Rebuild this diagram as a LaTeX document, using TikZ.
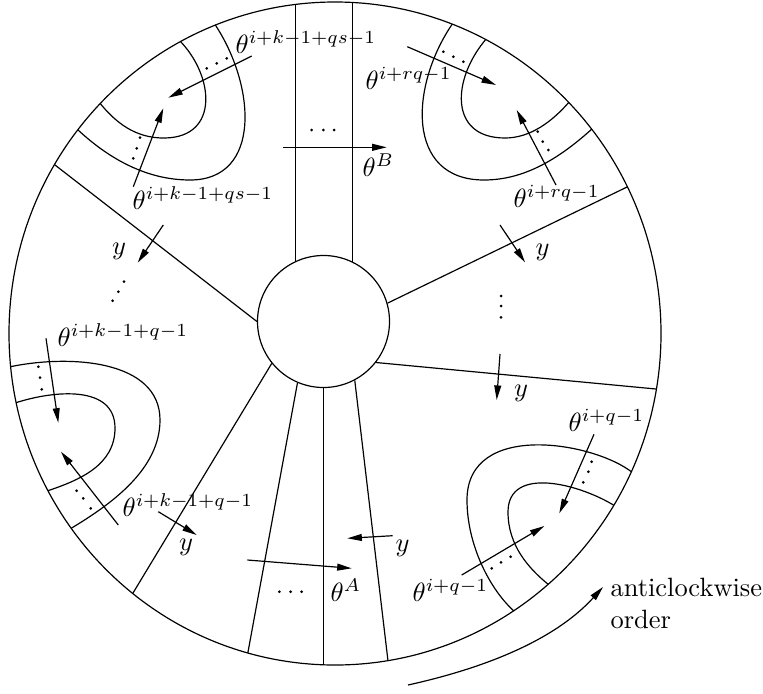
\documentclass[tikz,border=0pt]{standalone}
\usetikzlibrary{arrows.meta}
\begin{document}
\begin{tikzpicture}[x=0.378pt,y=-0.378pt,line width=0.45pt,
  every node/.style={inner sep=0pt},
  arr/.style={-{Triangle[length=5.5pt,width=2.6pt]}},
  lbl/.style={anchor=base west}]
\useasboundingbox (0,0) rectangle (763,693);
\coordinate (rimc) at (335,333.5);
\node[draw,circle,minimum size=49.9pt] (hub) at (323.5,321.5) {};
\draw (rimc) ellipse [x radius=326,y radius=331.5];
\begin{scope}
\clip (rimc) ellipse [x radius=326,y radius=331.5];
% spokes
\draw (hub.115.6) -- ++(0,-340);
\draw (hub.64.4) -- ++(0,-340);
\foreach \a/\p in {180/{55,165},16/{625,188},-38/{656,389},219/{133,593},247/{248,652},-90/{323.5,665},-62.5/{388,661}}
  \draw[shorten >=-6pt] (hub.\a) -- (\p);
% bands
\draw (214,23) .. controls (256,85) and (262,180) .. (190,180) .. controls (148,180) and (110,160) .. (77,129);
\draw (179,40) .. controls (214,75) and (220,137) .. (165,138) .. controls (135,138.5) and (115,122) .. (99,102);
\draw (453,23) .. controls (410,85) and (405,180) .. (484,180) .. controls (525,180) and (560,158) .. (593,128);
\draw (487,38) .. controls (452,78) and (448,138) .. (505,138) .. controls (530,138) and (552,122) .. (570,101);
\draw (9,367) .. controls (70,354) and (160,360) .. (160,420) .. controls (160,470) and (110,505) .. (70,529);
\draw (15,403) .. controls (55,390) and (115,385) .. (115,428) .. controls (115,465) and (80,480) .. (47,491);
\draw (633,473) .. controls (595,442) and (467,420) .. (467,500) .. controls (467,545) and (490,590) .. (515,612);
\draw (615,506) .. controls (580,484) and (508,465) .. (508,512) .. controls (508,545) and (528,568) .. (549,585);
\end{scope}
% dots
\foreach \x/\y in {206.7/68.3,216.7/63.3,226.7/58.3, 133.3/158.3,136.7/148.3,140/137.7,
  443.3/51.7,453.3/56.7,463.3/61.7, 537.7/131.7,542.7/141.7,548.3/150,
  38.3/366.7,40/377.7,41.7/389.3, 76.7/490.7,83.3/498.3,90.7/508.3,
  591.7/461.7,588.3/471.7,583.3/482.3, 491.7/568.3,501/562.3,510.7/556.7,
  311.7/130,323.3/130,334/130, 279.3/591.7,290.7/591.7,301.7/591.7,
  112.7/300.7,118.3/291.7,124/281.7, 501/296,501/306,501/317.3}
  \fill (\x,\y) circle (1.5);
% arrows
\foreach \a/\b in {{251.7,56}/{168.3,97.7},{133.3,186.7}/{163.3,108.3},{407.3,46.7}/{496,85},{556,185}/{516.7,110},
  {46,338.3}/{58.3,422.7},{118.3,525}/{61,451.7},{594,434.3}/{559.3,513.3},{461.7,575}/{544.3,526},
  {282.7,147.3}/{386.7,147.3},{247.3,560}/{351.7,568.3},
  {163.3,225}/{137.7,262.7},{500,225}/{525,262.3},{500,354}/{496.7,400},{158.3,511.7}/{196.7,535},{392.7,535.7}/{347.3,538.3}}
  \draw[arr] (\a) -- (\b);
\draw[arr] (408,685) .. controls (485,668) and (555,640) .. (603,587);
% labels
\node[lbl] (tqs1) at (235,53) {$\theta^{i+k-1+qs-1}$};
\node[lbl] (tqs2) at (132,209) {$\theta^{i+k-1+qs-1}$};
\node[lbl] (trq1) at (365,89) {$\theta^{i+rq-1}$};
\node[lbl] (trq2) at (513,207) {$\theta^{i+rq-1}$};
\node[lbl] (tkq1) at (57,346) {$\theta^{i+k-1+q-1}$};
\node[lbl] (tkq2) at (122,516) {$\theta^{i+k-1+q-1}$};
\node[lbl] (tq1) at (568,431) {$\theta^{i+q-1}$};
\node[lbl] (tq2) at (412,601) {$\theta^{i+q-1}$};
\node[lbl] (thB) at (362,176) {$\theta^B$};
\node[lbl] (thA) at (330,601) {$\theta^A$};
\node (y1) at (119,251) {$y$};
\node (y2) at (542.5,252) {$y$};
\node (y3) at (521,393) {$y$};
\node (y4) at (186,547) {$y$};
\node (y5) at (402.5,548) {$y$};
\node[lbl] (acw) at (610,596.7) {anticlockwise};
\node[lbl] (ord) at (610,628.5) {order};
\end{tikzpicture}
\end{document}
